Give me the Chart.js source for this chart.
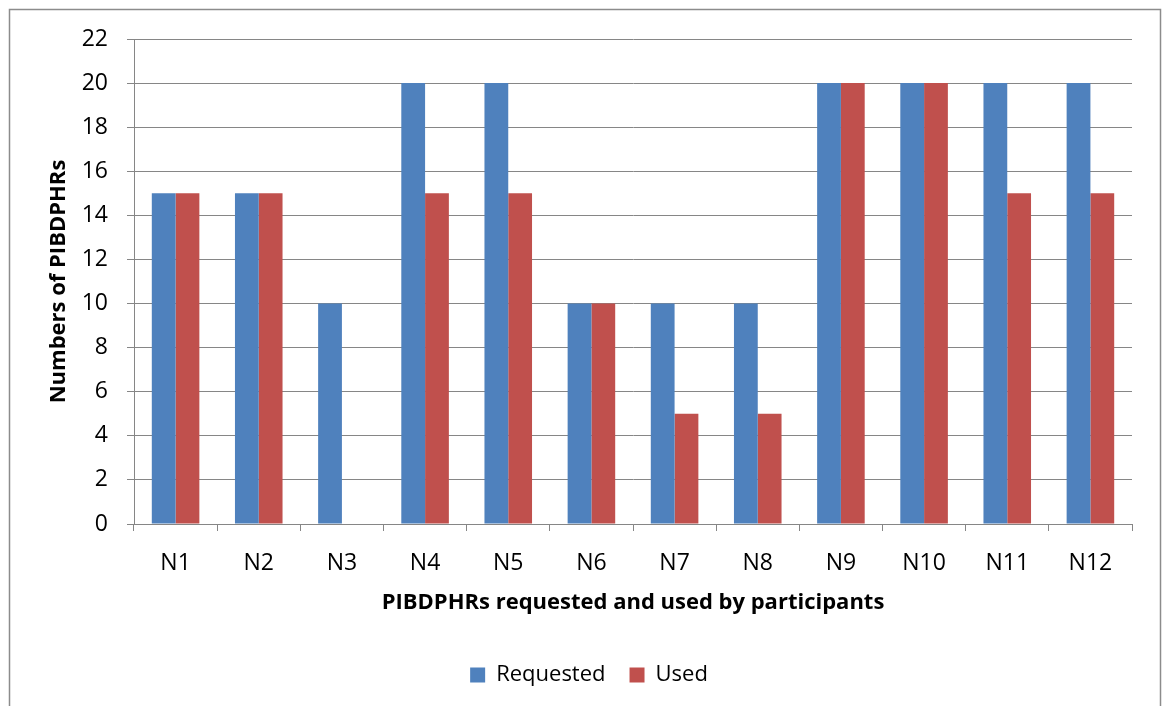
<!DOCTYPE html>
<html>
<head>
<meta charset="utf-8">
<script src="https://cdn.jsdelivr.net/npm/chart.js@4"></script>
<style>
html,body{margin:0;padding:0;background:#fff;}
#wrap{position:relative;width:1162px;height:706px;}
</style>
</head>
<body>
<div id="wrap"><canvas id="c" width="1162" height="706"></canvas></div>
<script>
const categories = ["N1","N2","N3","N4","N5","N6","N7","N8","N9","N10","N11","N12"];
const requested = [15,15,10,20,20,10,10,10,20,20,20,20];
const used = [15,15,0,15,15,10,5,5,20,20,15,15];
const yTicks = [0,2,4,6,8,10,12,14,16,18,20,22];
const seriesNames = ["Requested","Used"];
const xTitle = "PIBDPHRs requested and used by participants";
const yTitle = "Numbers of PIBDPHRs";

const FONT = "'Open Sans', 'Liberation Sans', sans-serif";
const GRID = "#868686";

const frame = {
  id: 'frame',
  beforeDraw(chart) {
    const ctx = chart.ctx;
    ctx.save();
    ctx.fillStyle = '#fff';
    ctx.fillRect(0,0,chart.width,chart.height);
    ctx.strokeStyle = '#8c8c8c';
    ctx.lineWidth = 1.5;
    ctx.strokeRect(9.5, 9.5, 1151, 720);
    ctx.restore();
  }
};

new Chart(document.getElementById('c'), {
  type: 'bar',
  data: {
    labels: categories,
    datasets: [
      { label: seriesNames[0], data: requested, backgroundColor: '#4F81BD', borderWidth: 0 },
      { label: seriesNames[1], data: used, backgroundColor: '#C0504D', borderWidth: 0 }
    ]
  },
  plugins: [frame],
  options: {
    responsive: false,
    animation: false,
    devicePixelRatio: 1,
    layout: { padding: { left: 46, right: 30, top: 39, bottom: 10 } },
    datasets: { bar: { categoryPercentage: 0.572, barPercentage: 1.0 } },
    plugins: {
      tooltip: { enabled: false },
      legend: {
        position: 'bottom',
        labels: {
          font: { family: FONT, size: 22 },
          color: '#000',
          boxWidth: 15,
          boxHeight: 15,
          padding: 24
        }
      }
    },
    scales: {
      x: {
        afterFit(scale) { scale.height = 116; },
        grid: { display: true, drawOnChartArea: false, drawTicks: true, tickLength: 7, color: GRID, offset: true },
        border: { display: true, color: GRID },
        ticks: { font: { family: FONT, size: 23 }, color: '#000', padding: 19 },
        title: { display: true, text: xTitle, font: { family: FONT, size: 22, weight: 'bold' }, color: '#000', padding: { top: 4, bottom: 24 } }
      },
      y: {
        min: 0, max: 22,
        afterBuildTicks(scale) { scale.ticks = yTicks.map(v => ({ value: v })); },
        afterFit(scale) { scale.width = 88; },
        grid: { color: GRID, drawTicks: true, tickLength: 7 },
        border: { display: true, color: GRID },
        ticks: { font: { family: FONT, size: 23 }, color: '#000', padding: 19 },
        title: { display: true, text: yTitle, font: { family: FONT, size: 22, weight: 'bold' }, color: '#000', padding: 0 }
      }
    }
  }
});
</script>
</body>
</html>
